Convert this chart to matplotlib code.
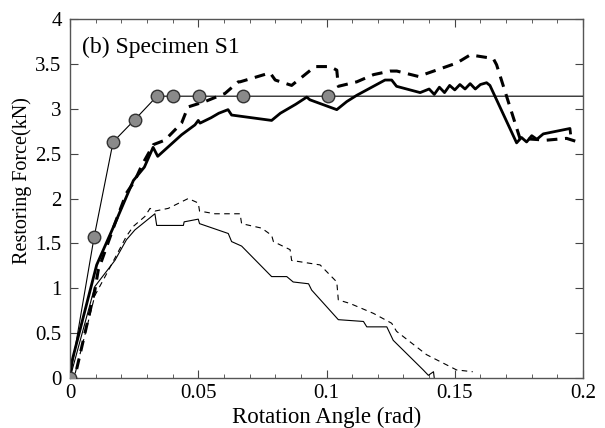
import matplotlib
matplotlib.use("Agg")
import matplotlib.pyplot as plt
from matplotlib.ticker import MultipleLocator

plt.rcParams['font.family'] = ['Liberation Serif', 'DejaVu Serif']

# design (bilinear) curve with markers
design_x = [0, 0.0094, 0.0168, 0.0253, 0.0339, 0.0402, 0.0503, 0.0674, 0.1006, 0.2]
design_y = [0, 1.57, 2.63, 2.88, 3.14, 3.14, 3.14, 3.14, 3.14, 3.14]

# thick solid
ts_x = [0, 0.0007, 0.0104, 0.0175, 0.0247, 0.029, 0.0324, 0.0342, 0.0435, 0.0487, 0.050, 0.0507,
        0.055, 0.058, 0.0616, 0.063, 0.0786, 0.082, 0.088, 0.0923, 0.0935, 0.104, 0.1079, 0.1118,
        0.1228, 0.1254, 0.1273, 0.1365, 0.140, 0.142, 0.144, 0.146, 0.148, 0.150, 0.152, 0.154,
        0.156, 0.158, 0.160, 0.1624, 0.1637, 0.1741, 0.176, 0.178, 0.180, 0.182, 0.1845, 0.1949, 0.1951]
ts_y = [0, 0.18, 1.26, 1.72, 2.2, 2.35, 2.57, 2.47, 2.71, 2.82, 2.87, 2.84,
        2.9, 2.95, 2.99, 2.93, 2.87, 2.95, 3.05, 3.13, 3.10, 2.99, 3.08, 3.15,
        3.32, 3.32, 3.25, 3.18, 3.22, 3.16, 3.24, 3.18, 3.26, 3.21, 3.27, 3.22,
        3.28, 3.22, 3.27, 3.29, 3.26, 2.62, 2.68, 2.63, 2.70, 2.66, 2.72, 2.78, 2.73]

# thick dashed
td_x = [0.0026, 0.0097, 0.011, 0.0175, 0.022, 0.0253, 0.028, 0.0325, 0.037, 0.0435, 0.046,
        0.0526, 0.0604, 0.0656, 0.0663, 0.078, 0.080, 0.0864, 0.0955, 0.1014, 0.104, 0.1046,
        0.1118, 0.1183, 0.1248, 0.1274, 0.1358, 0.1508, 0.156, 0.165, 0.1663, 0.1754,
        0.1858, 0.1936, 0.198]
td_y = [0.1, 0.98, 1.2, 1.72, 2.06, 2.2, 2.37, 2.6, 2.65, 2.84, 3.02,
        3.08, 3.17, 3.30, 3.30, 3.40, 3.32, 3.26, 3.47, 3.47, 3.43, 3.25,
        3.30, 3.38, 3.42, 3.42, 3.36, 3.51, 3.60, 3.56, 3.49, 2.67,
        2.65, 2.67, 2.63]

# thin solid
ns_x = [0, 0.0097, 0.0175, 0.022, 0.0253, 0.0318, 0.0331, 0.0338, 0.0442, 0.0445, 0.050,
        0.0505, 0.0617, 0.063, 0.0669, 0.0786, 0.0845, 0.087, 0.093, 0.0942, 0.1046,
        0.1144, 0.1157, 0.1235, 0.126, 0.1377, 0.1397, 0.1417, 0.142]
ns_y = [0, 1.02, 1.31, 1.54, 1.65, 1.80, 1.83, 1.70, 1.70, 1.74, 1.77,
        1.72, 1.61, 1.52, 1.47, 1.13, 1.13, 1.07, 1.05, 0.98, 0.65,
        0.63, 0.57, 0.57, 0.42, 0.09, 0.03, 0.07, 0]

# thin dashed
nd_x = [0.002, 0.0097, 0.015, 0.022, 0.0247, 0.0292, 0.0312, 0.0331, 0.0383, 0.0461, 0.050,
        0.0505, 0.0565, 0.0663, 0.0669, 0.0747, 0.0786, 0.0793, 0.0858, 0.0864, 0.0975,
        0.104, 0.1046, 0.1092, 0.1183, 0.1254, 0.1273, 0.139, 0.1507, 0.157]
nd_y = [0.05, 0.92, 1.2, 1.58, 1.69, 1.80, 1.89, 1.86, 1.89, 2.0, 1.95,
        1.86, 1.83, 1.83, 1.72, 1.67, 1.59, 1.52, 1.43, 1.31, 1.26,
        1.07, 0.87, 0.83, 0.72, 0.61, 0.52, 0.26, 0.09, 0.07]

xticks = [0, 0.05, 0.1, 0.15, 0.2]
xtick_labels = ['0', '0.05', '0.1', '0.15', '0.2']
yticks = [0, 0.5, 1, 1.5, 2, 2.5, 3, 3.5, 4]
ytick_labels = ['0', '0.5', '1', '1.5', '2', '2.5', '3', '3.5', '4']

fig = plt.figure(figsize=(6.05, 4.28), dpi=100)
ax = fig.add_axes([0.1157, 0.1168, 0.848, 0.8388])

ax.plot(ns_x, ns_y, color='black', lw=0.8)
ax.plot(nd_x, nd_y, color='black', lw=0.8, dashes=(5, 4))
ax.plot(td_x, td_y, color='black', lw=2.2, dashes=(3.5, 2.5))
ax.plot(ts_x, ts_y, color='black', lw=2.0)
ax.plot(design_x, design_y, color='black', lw=0.8, marker='o', markersize=9,
        markerfacecolor='#8a8a8a', markeredgecolor='#333333', markeredgewidth=1,
        markevery=list(range(len(design_x) - 1)), zorder=5)

ax.set_xlim(0, 0.2)
ax.set_ylim(0, 4)
ax.set_xticks(xticks)
ax.set_xticklabels(xtick_labels)
ax.set_yticks(yticks)
ax.set_yticklabels(ytick_labels)
ax.xaxis.set_minor_locator(MultipleLocator(0.01))
ax.tick_params(which='both', direction='in', top=True, right=True, labelsize=15, color='#444444')
ax.tick_params(which='major', length=6, pad=4)
ax.tick_params(axis='y', which='major', pad=6)
ax.tick_params(which='minor', length=3)
for s in ax.spines.values():
    s.set_color('#555555')
    s.set_linewidth(1)

ax.set_xlabel('Rotation Angle (rad)', fontsize=16.5, labelpad=3)
ax.set_ylabel('Restoring Force(kN)', fontsize=14.5)
ax.yaxis.set_label_coords(-0.074, 0.55)
ax.text(0.023, 0.905, '(b) Specimen S1', transform=ax.transAxes, fontsize=17)

fig.savefig('out.png', dpi=100)
